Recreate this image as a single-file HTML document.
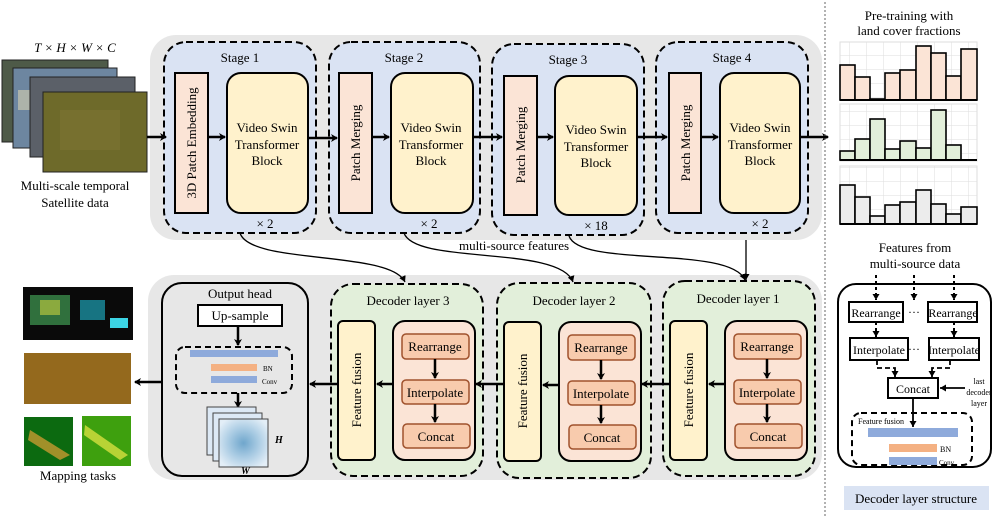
<!DOCTYPE html>
<html><head><meta charset="utf-8"><style>
body{margin:0;background:#fff}
svg{display:block;font-family:"Liberation Serif",serif}
</style></head><body>
<svg width="997" height="516" viewBox="0 0 997 516" xmlns="http://www.w3.org/2000/svg">
<defs>
<marker id="a" markerWidth="8" markerHeight="8" refX="6" refY="4" orient="auto" markerUnits="userSpaceOnUse"><path d="M0,0 L7,4 L0,8 L2,4z" fill="#000"/></marker>
<marker id="s" markerWidth="7" markerHeight="7" refX="6" refY="3.5" orient="auto" markerUnits="userSpaceOnUse"><path d="M0,0 L6,3.5 L0,7z" fill="#000"/></marker>
<radialGradient id="hm" cx="50%" cy="50%" r="60%"><stop offset="0" stop-color="#6fa6cc"/><stop offset="0.5" stop-color="#a9cbe3"/><stop offset="1" stop-color="#e3eef7"/></radialGradient>
<pattern id="gr" width="17" height="14" patternUnits="userSpaceOnUse"><path d="M17,0 V14 M0,14 H17" stroke="#ddd" stroke-width="1" fill="none"/></pattern>
</defs>

<!-- input images -->
<text x="75" y="52" font-size="13" font-style="italic" text-anchor="middle">T × H × W × C</text>
<rect x="2" y="60" width="106" height="82" fill="#4e5a48" stroke="#222"/>
<rect x="13" y="68" width="104" height="80" fill="#6d86a0" stroke="#222"/>
<rect x="18" y="90" width="60" height="20" fill="#d8d2b0" opacity=".6"/>
<rect x="30" y="77" width="105" height="80" fill="#5b6068" stroke="#222"/>
<rect x="43" y="92" width="104" height="80" fill="#6e6a2a" stroke="#222"/>
<rect x="60" y="110" width="60" height="40" fill="#7a7432" opacity=".7"/>
<text x="75" y="190" font-size="13" text-anchor="middle">Multi-scale temporal</text>
<text x="75" y="207" font-size="13" text-anchor="middle">Satellite data</text>

<!-- top panel -->
<rect x="150" y="35" width="672" height="205" rx="26" fill="#e7e7e7"/>
<g stroke="#000" stroke-width="2" stroke-dasharray="7,4" fill="#dae3f3">
<rect x="164" y="42" width="152" height="191" rx="22"/>
<rect x="329" y="42" width="151" height="191" rx="22"/>
<rect x="492" y="44" width="152" height="191" rx="22"/>
<rect x="656" y="42" width="152" height="191" rx="22"/>
</g>
<g font-size="13" text-anchor="middle">
<text x="240" y="62">Stage 1</text><text x="404" y="62">Stage 2</text><text x="568" y="64">Stage 3</text><text x="732" y="62">Stage 4</text>
<text x="265" y="228">× 2</text><text x="429" y="228">× 2</text><text x="596" y="230">× 18</text><text x="760" y="228">× 2</text>
</g>
<g stroke="#000" stroke-width="2">
<rect x="175" y="73" width="33" height="140" fill="#fbe4d6"/>
<rect x="227" y="73" width="81" height="140" rx="14" fill="#fff2cc"/>
<rect x="339" y="73" width="33" height="140" fill="#fbe4d6"/>
<rect x="391" y="73" width="82" height="140" rx="14" fill="#fff2cc"/>
<rect x="504" y="76" width="33" height="139" fill="#fbe4d6"/>
<rect x="555" y="76" width="82" height="139" rx="14" fill="#fff2cc"/>
<rect x="669" y="73" width="32" height="140" fill="#fbe4d6"/>
<rect x="720" y="73" width="80" height="140" rx="14" fill="#fff2cc"/>
</g>
<g font-size="13" text-anchor="middle">
<text transform="translate(196,143) rotate(-90)">3D Patch Embedding</text>
<text transform="translate(360,143) rotate(-90)">Patch Merging</text>
<text transform="translate(525,145) rotate(-90)">Patch Merging</text>
<text transform="translate(690,143) rotate(-90)">Patch Merging</text>
<text x="267" y="132">Video Swin</text><text x="267" y="149">Transformer</text><text x="267" y="165">Block</text>
<text x="431" y="132">Video Swin</text><text x="431" y="149">Transformer</text><text x="431" y="165">Block</text>
<text x="596" y="134">Video Swin</text><text x="596" y="151">Transformer</text><text x="596" y="167">Block</text>
<text x="760" y="132">Video Swin</text><text x="760" y="149">Transformer</text><text x="760" y="165">Block</text>
</g>
<g stroke="#000" stroke-width="2.5" fill="none" marker-end="url(#a)">
<line x1="147" y1="137" x2="166" y2="137"/>
<line x1="208" y1="137" x2="225" y2="137"/>
<line x1="308" y1="138" x2="337" y2="138"/>
<line x1="372" y1="137" x2="389" y2="137"/>
<line x1="473" y1="137" x2="502" y2="137"/>
<line x1="537" y1="137" x2="553" y2="137"/>
<line x1="637" y1="137" x2="667" y2="137"/>
<line x1="701" y1="137" x2="718" y2="137"/>
<line x1="800" y1="137" x2="828" y2="137"/>
</g>
<text x="514" y="250" font-size="13" text-anchor="middle">multi-source features</text>

<!-- bottom panel -->
<rect x="148" y="275" width="674" height="205" rx="26" fill="#e7e7e7"/>
<rect x="162" y="283" width="146" height="193" rx="20" fill="#e7e7e7" stroke="#000" stroke-width="2"/>
<text x="240" y="298" font-size="13" text-anchor="middle">Output head</text>
<rect x="198" y="305" width="84" height="21" fill="#fff" stroke="#000" stroke-width="2"/>
<text x="240" y="320" font-size="13" text-anchor="middle">Up-sample</text>
<rect x="176" y="347" width="116" height="46" rx="9" fill="none" stroke="#000" stroke-width="2" stroke-dasharray="6,4"/>
<rect x="190" y="350" width="88" height="7" fill="#8eaadb"/>
<rect x="211" y="364" width="46" height="7" fill="#f4b183"/>
<rect x="211" y="376" width="46" height="7" fill="#8eaadb"/>
<text x="263" y="371" font-size="7">BN</text><text x="262" y="384" font-size="7">Conv</text>
<g stroke="#000" stroke-width="2.5" marker-end="url(#a)">
<line x1="238" y1="326" x2="238" y2="345"/>
<line x1="238" y1="393" x2="238" y2="407"/>
</g>
<rect x="207" y="407" width="49" height="48" fill="#dde9f5" stroke="#444"/>
<rect x="213" y="413" width="49" height="48" fill="#dde9f5" stroke="#444"/>
<rect x="219" y="419" width="49" height="48" fill="url(#hm)" stroke="#444"/>
<text x="275" y="443" font-size="10" font-weight="bold" font-style="italic">H</text>
<text x="241" y="474" font-size="10" font-weight="bold" font-style="italic">W</text>

<!-- decoders -->
<g stroke="#000" stroke-width="2" stroke-dasharray="7,4" fill="#e2efda">
<rect x="331" y="284" width="152" height="192" rx="22"/>
<rect x="497" y="283" width="154" height="195" rx="22"/>
<rect x="663" y="281" width="152" height="195" rx="22"/>
</g>
<g font-size="13" text-anchor="middle">
<text x="408" y="305">Decoder layer 3</text><text x="574" y="305">Decoder layer 2</text><text x="738" y="303">Decoder layer 1</text>
</g>
<g id="dec">
<rect x="338" y="321" width="37" height="139" rx="5" fill="#fff2cc" stroke="#000" stroke-width="2"/>
<rect x="393" y="321" width="82" height="139" rx="12" fill="#fbe4d6" stroke="#000" stroke-width="2"/>
<g fill="#f8cbad" stroke="#a0522d" stroke-width="1.5">
<rect x="402" y="334" width="67" height="25" rx="4"/>
<rect x="402" y="380" width="67" height="24" rx="4"/>
<rect x="403" y="424" width="67" height="24" rx="4"/>
</g>
<g font-size="13" text-anchor="middle">
<text transform="translate(361,390) rotate(-90)">Feature fusion</text>
<text x="435" y="351">Rearrange</text><text x="435" y="397">Interpolate</text><text x="436" y="441">Concat</text>
</g>
<g stroke="#000" stroke-width="2.5" marker-end="url(#a)">
<line x1="435" y1="359" x2="435" y2="378"/>
<line x1="435" y1="404" x2="435" y2="422"/>
<line x1="393" y1="384" x2="377" y2="384"/>
</g>
</g>
<use href="#dec" x="166" y="1"/>
<use href="#dec" x="332" y="0"/>
<g stroke="#000" stroke-width="2.5" marker-end="url(#a)">
<line x1="337" y1="384" x2="310" y2="384"/>
<line x1="503" y1="384" x2="476" y2="384"/>
<line x1="669" y1="384" x2="642" y2="384"/>
<line x1="162" y1="382" x2="135" y2="382"/>
</g>

<!-- curves (on top) -->
<g stroke="#000" stroke-width="1.3" fill="none" marker-end="url(#s)">
<path d="M240,233 C250,265 390,250 405,282"/>
<path d="M404,233 C415,265 560,245 573,282"/>
<path d="M569,236 C580,268 730,245 745,280"/>
<line x1="746" y1="240" x2="746" y2="280"/>
</g>

<!-- mapping tasks -->
<rect x="23" y="287" width="110" height="53" fill="#0a0a0a"/>
<rect x="30" y="295" width="40" height="30" fill="#3a8a4a" opacity=".8"/>
<rect x="40" y="300" width="20" height="15" fill="#c8d040" opacity=".6"/>
<rect x="80" y="300" width="25" height="20" fill="#1a8fa0" opacity=".8"/>
<rect x="110" y="318" width="18" height="10" fill="#3cd4e4"/>
<rect x="24" y="353" width="107" height="51" fill="#6a8a20"/>
<rect x="24" y="353" width="107" height="51" fill="#c8401a" opacity=".45"/>
<rect x="24" y="417" width="49" height="49" fill="#0c6a10"/>
<path d="M30,430 L70,455 L60,460 L28,440z" fill="#c79a30" opacity=".8"/>
<rect x="82" y="416" width="49" height="50" fill="#3ea00e"/>
<path d="M85,425 L128,455 L120,460 L84,435z" fill="#d7e040" opacity=".8"/>
<text x="78" y="480" font-size="13" text-anchor="middle">Mapping tasks</text>

<!-- right side -->
<line x1="825" y1="2" x2="825" y2="516" stroke="#666" stroke-dasharray="2,2"/>
<text x="909" y="20" font-size="13" text-anchor="middle">Pre-training with</text>
<text x="909" y="35" font-size="13" text-anchor="middle">land cover fractions</text>
<rect x="840" y="42" width="137" height="58" fill="url(#gr)" stroke="#ddd"/>
<rect x="840" y="104" width="137" height="57" fill="url(#gr)" stroke="#ddd"/>
<rect x="840" y="166" width="137" height="58" fill="url(#gr)" stroke="#ddd"/>
<g stroke="#000" stroke-width="1.6" fill="#fbe4d6">
<rect x="840" y="65" width="15" height="35"/><rect x="855" y="77" width="15" height="23"/><rect x="870" y="99" width="15" height="1"/><rect x="885" y="73" width="15" height="27"/><rect x="900" y="70" width="16" height="30"/><rect x="916" y="46" width="15" height="54"/><rect x="931" y="53" width="15" height="47"/><rect x="946" y="76" width="15" height="24"/><rect x="961" y="49" width="16" height="51"/>
</g>
<g stroke="#000" stroke-width="1.6" fill="#e2efda">
<rect x="840" y="151" width="15" height="9"/><rect x="855" y="139" width="15" height="21"/><rect x="870" y="119" width="15" height="41"/><rect x="885" y="149" width="15" height="11"/><rect x="900" y="141" width="16" height="19"/><rect x="916" y="148" width="15" height="12"/><rect x="931" y="110" width="15" height="50"/><rect x="946" y="145" width="15" height="15"/>
</g>
<g stroke="#000" stroke-width="1.6" fill="#ececec">
<rect x="840" y="185" width="15" height="39"/><rect x="855" y="197" width="15" height="27"/><rect x="870" y="216" width="15" height="8"/><rect x="885" y="205" width="15" height="19"/><rect x="900" y="202" width="16" height="22"/><rect x="916" y="190" width="15" height="34"/><rect x="931" y="204" width="15" height="20"/><rect x="946" y="214" width="15" height="10"/><rect x="961" y="207" width="16" height="17"/>
</g>
<line x1="840" y1="100" x2="977" y2="100" stroke="#000" stroke-width="2"/>
<line x1="840" y1="160" x2="977" y2="160" stroke="#000" stroke-width="2"/>
<line x1="840" y1="224" x2="977" y2="224" stroke="#000" stroke-width="2"/>
<text x="915" y="252" font-size="13" text-anchor="middle">Features from</text>
<text x="915" y="268" font-size="13" text-anchor="middle">multi-source data</text>
<rect x="838" y="284" width="153" height="183" rx="18" fill="#fff" stroke="#000" stroke-width="2"/>
<g stroke="#000" stroke-width="2" stroke-dasharray="3,3" marker-end="url(#s)" fill="none">
<line x1="876" y1="275" x2="876" y2="300"/>
<line x1="914" y1="275" x2="914" y2="300"/>
<line x1="954" y1="275" x2="954" y2="300"/>
<line x1="876" y1="322" x2="876" y2="337"/>
<line x1="954" y1="322" x2="954" y2="337"/>
</g>
<g stroke="#000" stroke-width="1.8" stroke-dasharray="5,3" fill="none" marker-end="url(#s)">
<path d="M877,360 V368 H895 V377"/>
<path d="M950,360 V368 H932 V377"/>
</g>
<g stroke="#000" stroke-width="2" fill="#fff">
<rect x="849" y="302" width="54" height="20"/>
<rect x="928" y="302" width="49" height="20"/>
<rect x="850" y="338" width="58" height="22"/>
<rect x="929" y="338" width="50" height="22"/>
<rect x="888" y="378" width="50" height="20"/>
</g>
<g font-size="12" text-anchor="middle">
<text x="876" y="317">Rearrange</text><text x="953" y="317">Rearrange</text>
<text x="879" y="354">Interpolate</text><text x="954" y="354">Interpolate</text>
<text x="913" y="393">Concat</text>
<text x="914" y="316">···</text><text x="914" y="353">···</text>
</g>
<g font-size="8" text-anchor="middle"><text x="979" y="384">last</text><text x="979" y="395">decoder</text><text x="979" y="406">layer</text></g>
<line x1="965" y1="388" x2="940" y2="388" stroke="#000" stroke-width="1.8" marker-end="url(#s)"/>
<rect x="852" y="413" width="120" height="52" rx="9" fill="none" stroke="#000" stroke-width="2" stroke-dasharray="6,4"/>
<line x1="913" y1="398" x2="913" y2="427" stroke="#000" stroke-width="1.8" marker-end="url(#s)"/>
<text x="858" y="424" font-size="8">Feature fusion</text>
<rect x="868" y="428" width="90" height="9" fill="#8eaadb"/>
<rect x="889" y="444" width="48" height="8" fill="#f4b183"/>
<rect x="889" y="457" width="48" height="8" fill="#8eaadb"/>
<text x="940" y="452" font-size="8">BN</text><text x="939" y="465" font-size="7">Conv</text>
<rect x="844" y="486" width="145" height="24" fill="#dae3f3"/>
<text x="916" y="503" font-size="13" text-anchor="middle">Decoder layer structure</text>
</svg>
</body></html>
